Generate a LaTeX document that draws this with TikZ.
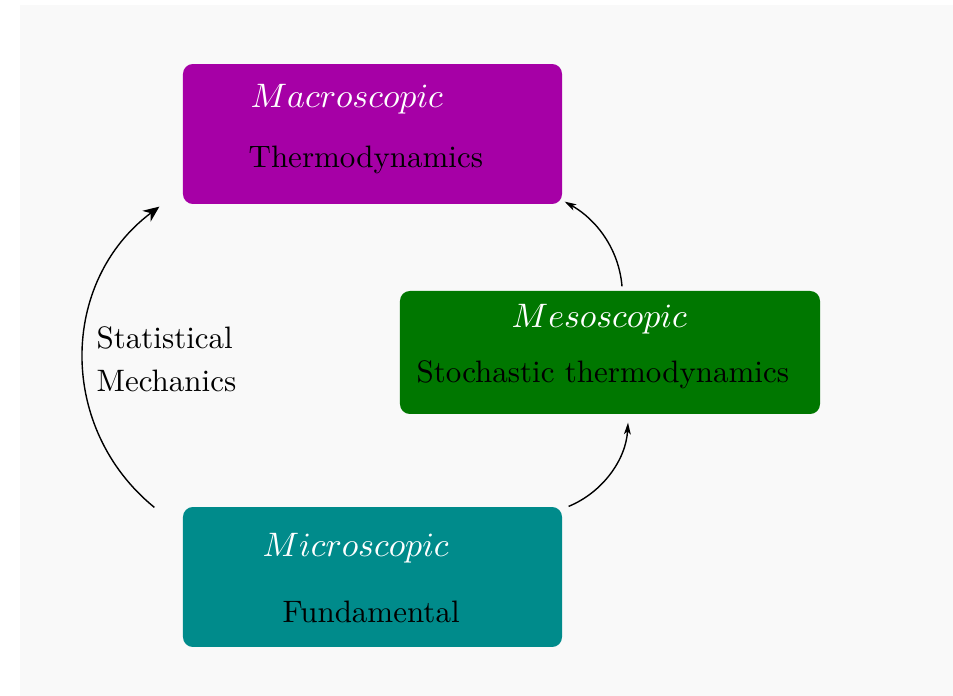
\documentclass[tikz,border=0pt]{standalone}
\usetikzlibrary{arrows.meta,calc}
\definecolor{bgcol}{RGB}{249,249,249}
\definecolor{macrocol}{RGB}{166,0,166}
\definecolor{mesocol}{RGB}{0,119,0}
\definecolor{microcol}{RGB}{0,139,139}
\begin{document}
\begin{tikzpicture}[x=0.3226pt,y=-0.3226pt,
  box/.style={rectangle,rounded corners=3.2pt,inner sep=0pt,draw=none},
  ital/.style={anchor=base west,inner sep=0pt,text=white,font=\fontsize{11.4pt}{14pt}\selectfont},
  plain/.style={anchor=base west,inner sep=0pt,text=black},
  conn/.style={line width=0.45pt},
  bigtip/.style={-{Stealth[length=5.2pt,width=4.4pt,inset=1.7pt]}},
  smalltip/.style={-{Stealth[length=3.8pt,width=2.2pt,inset=1pt]}}]
\fill[white] (0,0) rectangle (953,696);
\useasboundingbox (0,0) rectangle (953,696);
\fill[bgcol] (20,5) rectangle (953,696);
% boxes
\node[box,fill=macrocol,minimum width=122.27pt,minimum height=45.16pt] (macro) at (372.5,134) {};
\node[box,fill=mesocol,minimum width=135.5pt,minimum height=39.68pt] (meso) at (610,352.5) {};
\node[box,fill=microcol,minimum width=122.27pt,minimum height=45.16pt] (micro) at (372.5,577) {};
% texts
\node[ital] (macrotitle) at (250,108) {$Macroscopic$};
\node[plain] (macrotext) at (248,168) {Thermodynamics};
\node[ital] (mesotitle) at (511,328) {$Mesoscopic$};
\node[plain] (mesotext) at (416,383) {Stochastic thermodynamics};
\node[ital] (microtitle) at (262,556) {$Microscopic$};
\node[plain] (microtext) at (282,622) {Fundamental};
\node[anchor=north west,inner sep=0pt,align=left,font=\fontsize{10pt}{13.9pt}\selectfont] (statmech) at (96,326) {Statistical\\Mechanics};
% connectors
\draw[conn,bigtip] ($(micro.north west)+(-28,1)$) .. controls +(-97,-79) and +(-100,75) .. ($(macro.south west)+(-23,2)$);
\draw[conn,smalltip] ($(micro.north east)+(6,0)$) .. controls +(34,-14) and +(-2,37) .. ($(meso.south)+(18,8)$);
\draw[conn,smalltip] ($(meso.north)+(12,-4)$) .. controls +(-3,-37) and +(32,18) .. ($(macro.south east)+(2,-3)$);
\end{tikzpicture}
\end{document}
